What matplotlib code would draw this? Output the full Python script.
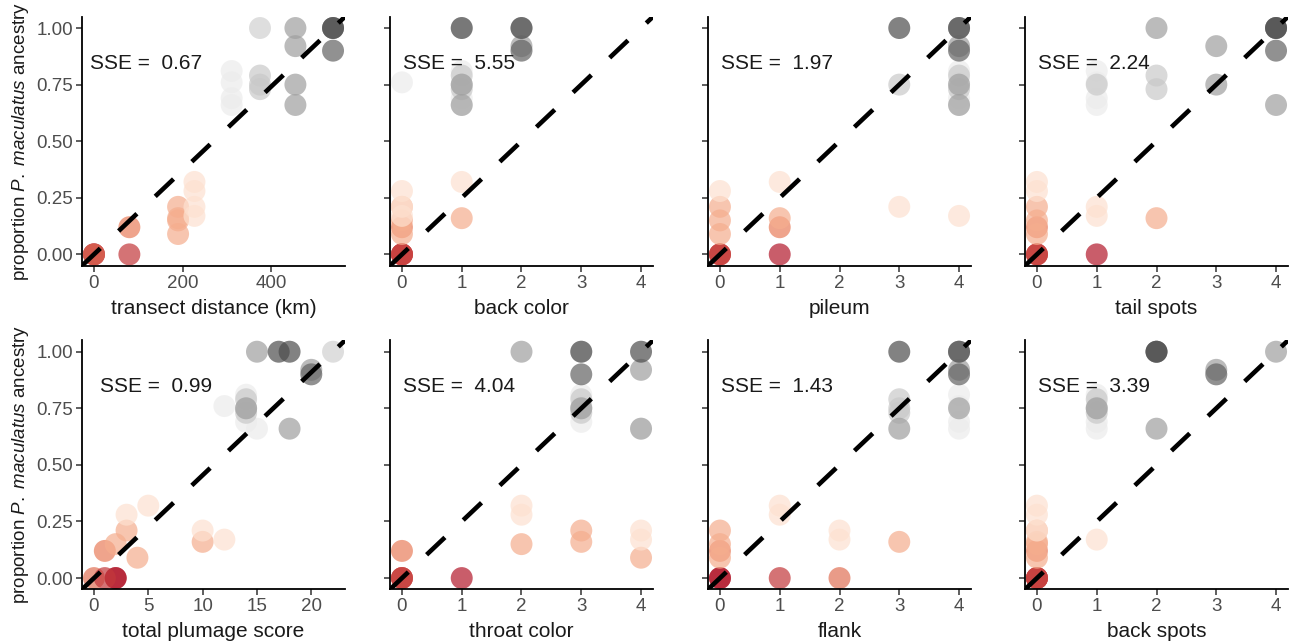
import numpy as np
import matplotlib.pyplot as plt
from matplotlib.colors import LinearSegmentedColormap

plt.rcParams['font.family'] = ['Liberation Sans', 'DejaVu Sans']
plt.rcParams['mathtext.fontset'] = 'custom'
plt.rcParams['mathtext.rm'] = 'Liberation Sans'
plt.rcParams['mathtext.it'] = 'Liberation Sans:italic'

# one entry per sampled bird
ancestry = [0.00, 0.00, 0.00, 0.00, 0.12,
            0.21, 0.16, 0.15, 0.09,
            0.32, 0.28, 0.21, 0.17,
            0.81, 0.76, 0.69, 0.66,
            1.00, 0.79, 0.75, 0.73,
            1.00, 0.92, 0.75, 0.66,
            1.00, 1.00, 0.90]
tone = [0.00, 0.00, 0.13, 0.05, 0.15,
        0.24, 0.24, 0.24, 0.24,
        0.36, 0.36, 0.36, 0.36,
        0.60, 0.60, 0.60, 0.60,
        0.70, 0.72, 0.72, 0.72,
        0.82, 0.82, 0.82, 0.82,
        1.00, 1.00, 0.95]
distance = [0, 0, 0, 80, 80,
            190, 190, 190, 190,
            227, 227, 227, 227,
            311, 311, 311, 311,
            375, 375, 375, 375,
            455, 455, 455, 455,
            540, 540, 540]
back_color = [0, 0, 0, 0, 0, 0, 1, 0, 0, 1, 0, 0, 0,
              1, 0, 1, 1, 1, 1, 1, 1, 2, 2, 1, 1, 1, 2, 2]
pileum = [1, 0, 0, 0, 1, 0, 1, 0, 0, 1, 0, 3, 4,
          4, 4, 4, 4, 4, 4, 3, 4, 4, 4, 4, 4, 3, 4, 4]
tail_spots = [1, 0, 0, 0, 0, 0, 2, 0, 0, 0, 0, 1, 1,
              1, 1, 1, 1, 4, 2, 1, 2, 2, 3, 3, 4, 4, 4, 4]
plumage_total = [2, 2, 0, 1, 1, 3, 10, 2, 4, 5, 3, 10, 12,
                 14, 12, 14, 15, 22, 14, 14, 14, 15, 20, 14, 18, 17, 18, 20]
throat_color = [1, 0, 0, 0, 0, 3, 3, 2, 4, 2, 2, 4, 4,
                3, 3, 3, 4, 3, 3, 3, 3, 2, 4, 3, 4, 3, 4, 3]
flank = [0, 0, 2, 1, 0, 0, 3, 0, 0, 1, 1, 2, 2,
         4, 4, 4, 4, 4, 3, 3, 3, 4, 4, 4, 3, 3, 4, 4]
back_spots = [0, 0, 0, 0, 0, 0, 0, 0, 0, 0, 0, 0, 1,
              1, 1, 1, 1, 2, 1, 1, 1, 4, 3, 1, 2, 2, 2, 3]

panel_x = [distance, back_color, pileum, tail_spots,
           plumage_total, throat_color, flank, back_spots]
panel_labels = ['transect distance (km)', 'back color', 'pileum', 'tail spots',
                'total plumage score', 'throat color', 'flank', 'back spots']
panel_max = [540, 4, 4, 4, 22, 4, 4, 4]
panel_sse = ['0.67', '5.55', '1.97', '2.24', '0.99', '4.04', '1.43', '3.39']
panel_ticks = [[0, 200, 400], [0, 1, 2, 3, 4], [0, 1, 2, 3, 4], [0, 1, 2, 3, 4],
               [0, 5, 10, 15, 20], [0, 1, 2, 3, 4], [0, 1, 2, 3, 4], [0, 1, 2, 3, 4]]
y_ticks = [0, 0.25, 0.5, 0.75, 1.0]

cmap = LinearSegmentedColormap.from_list(
    'rdgy', ['#b2182b', '#ef8a62', '#fddbc7', '#ffffff', '#e0e0e0', '#999999', '#4d4d4d'])

W, H = 1292, 644
fig = plt.figure(figsize=(W / 100, H / 100), dpi=100)

col_left = [82, 390, 708, 1025]
row_top = [16.7, 340.4]
ax_w, ax_h = 263, 249
sse_x = [0.03, 0.05, 0.05, 0.05, 0.068, 0.05, 0.05, 0.05]

for i in range(8):
    r, c = divmod(i, 4)
    ax = fig.add_axes([col_left[c] / W, 1 - (row_top[r] + ax_h) / H, ax_w / W, ax_h / H])
    m = panel_max[i]
    ax.scatter(panel_x[i], ancestry, c=cmap(np.array(tone)), s=250, alpha=0.7,
               linewidths=0, zorder=2)
    ax.set_xlim(-0.05 * m, 1.05 * m)
    ax.set_ylim(-0.05, 1.05)
    xs = np.array(ax.get_xlim())
    ax.plot(xs, xs / m, color='black', lw=3.3, linestyle=(0, (5.5, 5.5)),
            solid_capstyle='butt', dash_capstyle='butt', zorder=3)
    ax.text(sse_x[i], 0.814, 'SSE =  ' + panel_sse[i], transform=ax.transAxes,
            fontsize=15, ha='left', va='center', color='#1a1a1a', zorder=4)
    ax.set_xticks(panel_ticks[i])
    ax.set_yticks(y_ticks)
    ax.set_xlabel(panel_labels[i], fontsize=15, color='#1a1a1a', labelpad=5)
    if c == 0:
        ax.set_yticklabels(['0.00', '0.25', '0.50', '0.75', '1.00'])
        ax.set_ylabel('proportion $\\it{P.\\ maculatus}$ ancestry', fontsize=13.5,
                      color='#1a1a1a', labelpad=4)
    else:
        ax.set_yticklabels([])
    for s in ['top', 'right']:
        ax.spines[s].set_visible(False)
    for s in ['left', 'bottom']:
        ax.spines[s].set_linewidth(1.3)
        ax.spines[s].set_color('black')
    ax.tick_params(direction='out', length=4, width=1.1, color='#333333',
                   labelsize=13.5, labelcolor='#4d4d4d', pad=2.5)

fig.savefig('out.png', dpi=100)
